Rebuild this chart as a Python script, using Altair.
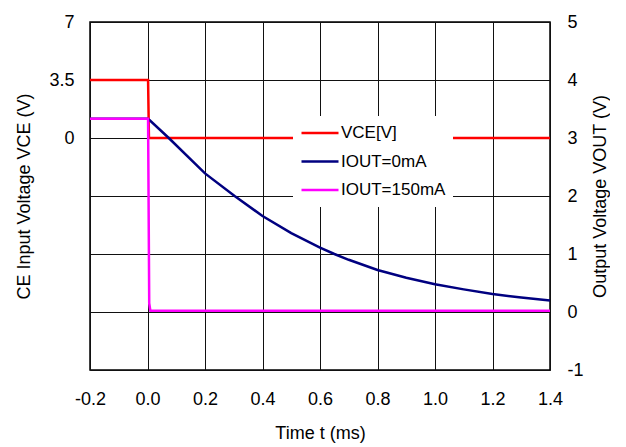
import altair as alt
import pandas as pd

FONT = "Liberation Sans"

# ---- data ----
series = ["VCE[V]", "IOUT=0mA", "IOUT=150mA"]
colors = ["#FF0000", "#000080", "#FF00FF"]

vce_t = [-0.2, 0.002, 0.005, 1.4]
vce_v = [3.5, 3.5, 0.0, 0.0]

i0_t = [-0.2, 0.0, 0.007, 0.074, 0.2, 0.303, 0.4, 0.5, 0.6, 0.65, 0.7, 0.8,
        0.9, 1.0, 1.1, 1.2, 1.3, 1.4]
i0_v = [3.33, 3.33, 3.31, 3.0, 2.39, 2.0, 1.655, 1.36, 1.11, 1.0, 0.90, 0.724,
        0.59, 0.478, 0.39, 0.31, 0.25, 0.20]

i150_t = [-0.2, 0.002, 0.006, 0.010, 1.4]
i150_v = [3.33, 3.33, 0.15, 0.02, 0.02]

x_ticks = [-0.2, 0.0, 0.2, 0.4, 0.6, 0.8, 1.0, 1.2, 1.4]
left_ticks = [7, 3.5, 0, -3.5, -7, -10.5, -14]
right_ticks = [5, 4, 3, 2, 1, 0, -1]

df_vce = pd.DataFrame({"t": vce_t, "v": vce_v, "s": series[0]})
df_i0 = pd.DataFrame({"t": i0_t, "v": i0_v, "s": series[1]})
df_i150 = pd.DataFrame({"t": i150_t, "v": i150_v, "s": series[2]})

x_axis = alt.Axis(values=x_ticks, format=".1f", grid=True, ticks=False, domain=False,
                  labelExpr="replace(datum.label, '\u2212', '-')", labelFlush=False,
                  labelPadding=20, labelFontSize=18, title="Time t (ms)",
                  titleFontSize=18, titleFontWeight="normal", titleY=63,
                  titleBaseline="middle")
x_enc = alt.X("t:Q", scale=alt.Scale(domain=[-0.2, 1.4], nice=False), axis=x_axis)

color_enc = alt.Color(
    "s:N",
    scale=alt.Scale(domain=series, range=colors),
    legend=alt.Legend(orient="none", legendX=203, legendY=94, title=None,
                      fillColor="white", padding=7, symbolType="stroke",
                      symbolStrokeWidth=2.5, symbolSize=1369, labelFontSize=17,
                      labelFont=FONT, labelColor="black", rowPadding=8.5,
                      clipHeight=20, labelOffset=1),
)

left = alt.Chart(df_vce).mark_line(strokeWidth=2.5).encode(
    x=x_enc,
    y=alt.Y("v:Q", scale=alt.Scale(domain=[-14, 7], nice=False),
            axis=alt.Axis(values=left_ticks, grid=True, ticks=False, domain=False,
                          labelExpr="datum.value >= 0 ? '' + datum.value : ''",
                          labelFlush=False,
                          labelPadding=16, labelFontSize=18,
                          title="CE Input Voltage VCE (V)", titleFontSize=18,
                          titleFontWeight="normal", titleX=-66, titleY=174,
                          titleAngle=270, titleAlign="center",
                          titleBaseline="middle")),
    color=color_enc,
)

right_axis = alt.Axis(values=right_ticks, grid=False, ticks=False, domain=False,
                      orient="right", labelPadding=17, labelFontSize=18,
                      labelExpr="replace(datum.label, '\u2212', '-')", labelFlush=False,
                      title="Output Voltage VOUT (V)", titleFontSize=18,
                      titleFontWeight="normal", titleX=50, titleY=174,
                      titleAngle=270, titleAlign="center", titleBaseline="middle")
y_right = alt.Y("v:Q", scale=alt.Scale(domain=[-1, 5], nice=False), axis=right_axis)

blue = alt.Chart(df_i0).mark_line(strokeWidth=2.5).encode(x=x_enc, y=y_right, color=color_enc)
mag = alt.Chart(df_i150).mark_line(strokeWidth=2.5).encode(x=x_enc, y=y_right, color=color_enc)

chart = alt.layer(left, alt.layer(blue, mag)).resolve_scale(y="independent").properties(
    width=460, height=348,
    autosize=alt.AutoSizeParams(type="none"),
    padding={"left": 82, "top": 14, "right": 60, "bottom": 74},
    background="white",
).configure_view(stroke="black", strokeWidth=1.5).configure_axis(
    labelFont=FONT, titleFont=FONT, labelColor="black", titleColor="black",
    gridColor="#111111", gridWidth=1, gridOpacity=1,
)

chart.save("out.html", embed_options={"renderer": "svg", "actions": False})
